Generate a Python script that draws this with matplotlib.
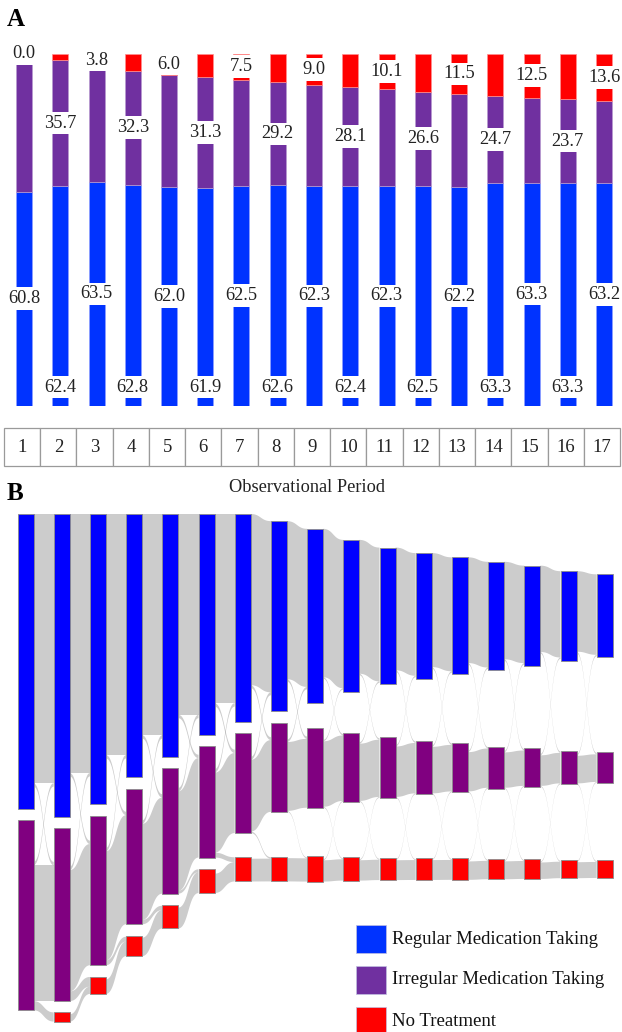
import matplotlib
matplotlib.use("Agg")
import matplotlib.pyplot as plt
from matplotlib.patches import Rectangle, Polygon
import numpy as np

plt.rcParams['font.family'] = ['Liberation Serif', 'DejaVu Serif']

# ---- data ----
periods = list(range(1, 18))
regular = [60.8, 62.4, 63.5, 62.8, 62.0, 61.9, 62.5, 62.6, 62.3, 62.4, 62.3, 62.5, 62.2, 63.3, 63.3, 63.3, 63.2]
irregular = [39.2, 35.7, 32.7, 32.3, 32.0, 31.3, 30.0, 29.2, 28.7, 28.1, 27.6, 26.6, 26.3, 24.7, 24.2, 23.7, 23.2]
no_treat = [0.0, 1.9, 3.8, 4.9, 6.0, 6.8, 7.5, 8.2, 9.0, 9.5, 10.1, 10.9, 11.5, 12.0, 12.5, 13.0, 13.6]
# patients still observed (% of the starting cohort)
cohort = [100, 100, 94.3, 86.5, 80.8, 73.5, 68.6, 62.4, 57.6, 50.2, 45.2, 41.4, 38.8, 35.2, 32.7, 29.1, 27.1]

# transitions between consecutive periods (% of the starting cohort)
reg_reg = [55.5, 53.4, 49.7, 45.6, 41.4, 39.0, 35.3, 32.6, 30.6, 27.6, 25.3, 23.5, 21.8, 20.1, 17.8, 16.6]
reg_irr = [0.7, 0.7, 0.7, 0.7, 0.7, 0.7, 0.6, 0.5, 0.3, 0.3, 0.3, 0.3, 0.3, 0.3, 0.3, 0.3]
irr_reg = [0.7, 0.7, 0.7, 0.7, 0.7, 0.7, 0.6, 0.5, 0.3, 0.3, 0.3, 0.3, 0.3, 0.3, 0.3, 0.3]
irr_irr = [28.0, 25.0, 22.5, 19.8, 20.5, 16.5, 14.8, 14.2, 13.5, 11.8, 10.4, 9.6, 8.1, 7.3, 6.3, 5.7]
irr_no = [1.9, 2.0, 1.0, 0.9, 0.6, 1.0, 0.3, 0.2, 0.2, 0.2, 0.2, 0.2, 0.2, 0.2, 0.2, 0.2]
no_irr = [0, 0, 0, 0, 0, 0, 0, 0, 0.2, 0.2, 0.2, 0.2, 0.2, 0.2, 0.2, 0.2]
no_no = [0, 1.5, 3.0, 3.8, 4.3, 4.0, 4.7, 4.8, 4.4, 4.2, 4.1, 4.1, 3.8, 3.7, 3.4, 3.3]

legend_labels = ['Regular Medication Taking', 'Irregular Medication Taking', 'No Treatment']

W, H = 622, 1032
fig = plt.figure(figsize=(W / 100, H / 100), dpi=100)


def px_axes(x0, y0, x1, y1):
    return fig.add_axes([x0 / W, 1 - y1 / H, (x1 - x0) / W, (y1 - y0) / H])


colsA = ['#0033FF', '#7030A0', '#FF0000']
colsB = ['#0000FF', '#800080', '#FF0000']

# ---- panel A ----
step = 36.25
axA = px_axes(0, 53.5, W, 405.7)
axA.set_xlim(1 - 24 / step, 1 + (W - 24) / step)
axA.set_ylim(0, 100)
axA.axis('off')
bw = 16 / step
x = np.array(periods)
reg = np.array(regular)
irr = np.array(irregular)
nt = np.array(no_treat)
axA.bar(x, reg, bw, color=colsA[0], edgecolor='#8fa0ff', linewidth=0.5)
axA.bar(x, irr, bw, bottom=reg, color=colsA[1], edgecolor='#b89ad0', linewidth=0.5)
axA.bar(x, nt, bw, bottom=reg + irr, color=colsA[2], edgecolor='#ff9090', linewidth=0.5)

box = dict(boxstyle='square,pad=0.15', fc='white', ec='none')
lab = dict(ha='center', va='center', fontsize=13.2, color='#222222', bbox=box, zorder=5)
for i, p in enumerate(periods):
    if p % 2 == 1:
        axA.text(p, reg[i] + irr[i] + nt[i] / 2, f'{nt[i]:.1f}', **lab)
        axA.text(p, reg[i] / 2, f'{reg[i]:.1f}', **lab)
    else:
        axA.text(p, reg[i] + irr[i] / 2, f'{irr[i]:.1f}', **lab)
        axA.text(p, 5.3, f'{reg[i]:.1f}', **lab)

# period table
axT = px_axes(0, 428.3, W, 465.7)
axT.set_xlim(axA.get_xlim())
axT.set_ylim(0, 1)
axT.axis('off')
for p in periods:
    axT.add_patch(Rectangle((p - 0.5 - 0.052, 0), 1, 1, fc='white', ec='#9a9a9a', lw=0.9, clip_on=False))
    axT.text(p - 0.052, 0.5, str(p), ha='center', va='center', fontsize=13.5, color='#222222')

# ---- panel B ----
stepB = 36.2
unit = 4.85  # px per % of cohort
axB = px_axes(0, 514, W, H)
axB.set_xlim(1 - 25.5 / stepB, 1 + (W - 25.5) / stepB)
axB.set_ylim((H - 514) / unit, 0)
axB.axis('off')
nw = 16 / stepB

states = [regular, irregular, no_treat]
sizes = np.array([[cohort[t] * s[t] / 100 for t in range(17)] for s in states])
centre = [21.0, 52.3, 73.2]
gap = 2.33
tops = np.zeros_like(sizes)
for t in range(17):
    y = 0.0
    for s in range(3):
        h = sizes[s, t]
        if h <= 0:
            continue
        y0 = max(centre[s] - h / 2, y)
        tops[s, t] = y0
        y = y0 + h + gap

flows = {(0, 0): reg_reg, (0, 1): reg_irr, (1, 0): irr_reg, (1, 1): irr_irr,
         (1, 2): irr_no, (2, 1): no_irr, (2, 2): no_no}


def curve(xs, ys, xt, yt, n=40):
    u = np.linspace(0, 1, n)
    xm = (xs + xt) / 2
    cx = (1 - u) ** 3 * xs + 3 * (1 - u) ** 2 * u * xm + 3 * (1 - u) * u ** 2 * xm + u ** 3 * xt
    cy = (1 - u) ** 3 * ys + 3 * (1 - u) ** 2 * u * ys + 3 * (1 - u) * u ** 2 * yt + u ** 3 * yt
    return cx, cy


for t in range(16):
    out_y = []
    in_y = []
    for s in range(3):
        tot_out = sum(flows.get((s, k), [0] * 16)[t] for k in range(3))
        tot_in = sum(flows.get((k, s), [0] * 16)[t] for k in range(3))
        out_y.append(tops[s, t] if s == 0 else tops[s, t] + sizes[s, t] - tot_out)
        in_y.append(tops[s, t + 1] if s == 0 else tops[s, t + 1] + sizes[s, t + 1] - tot_in)
    for s in range(3):
        for k in range(3):
            f = flows.get((s, k), [0] * 16)[t]
            if f <= 0:
                continue
            xs = t + 1 + nw / 2
            xt = t + 2 - nw / 2
            ax1, ay1 = curve(xs, out_y[s], xt, in_y[k])
            ax2, ay2 = curve(xs, out_y[s] + f, xt, in_y[k] + f)
            pts = np.column_stack([np.r_[ax1, ax2[::-1]], np.r_[ay1, ay2[::-1]]])
            axB.add_patch(Polygon(pts, closed=True, fc=(0, 0, 0, 0.2), ec='none', lw=0))
            out_y[s] += f
            in_y[k] += f

for t in range(17):
    for s in range(3):
        if sizes[s, t] <= 0:
            continue
        axB.add_patch(Rectangle((t + 1 - nw / 2, tops[s, t]), nw, sizes[s, t],
                                fc=colsB[s], ec='#8c8c8c', lw=0.6, zorder=3))

# ---- overlay texts / legend ----
axO = fig.add_axes([0, 0, 1, 1])
axO.set_xlim(0, W)
axO.set_ylim(H, 0)
axO.axis('off')
axO.text(16, 19, 'A', ha='center', va='center', fontsize=18, fontweight='bold')
axO.text(15, 494, 'B', ha='center', va='center', fontsize=18, fontweight='bold')
axO.text(307, 488, 'Observational Period', ha='center', va='center', fontsize=13.2, color='#222222')
for j, (lbl, c) in enumerate(zip(legend_labels, colsA)):
    yy = 925 + j * 41
    axO.add_patch(Rectangle((355.7, yy), 30, 28, fc=c, ec='#c0c0e0', lw=0.5))
    axO.text(391.7, yy + 14, lbl, ha='left', va='center', fontsize=13.5, color='#111111')

fig.savefig('out.png', dpi=100)
